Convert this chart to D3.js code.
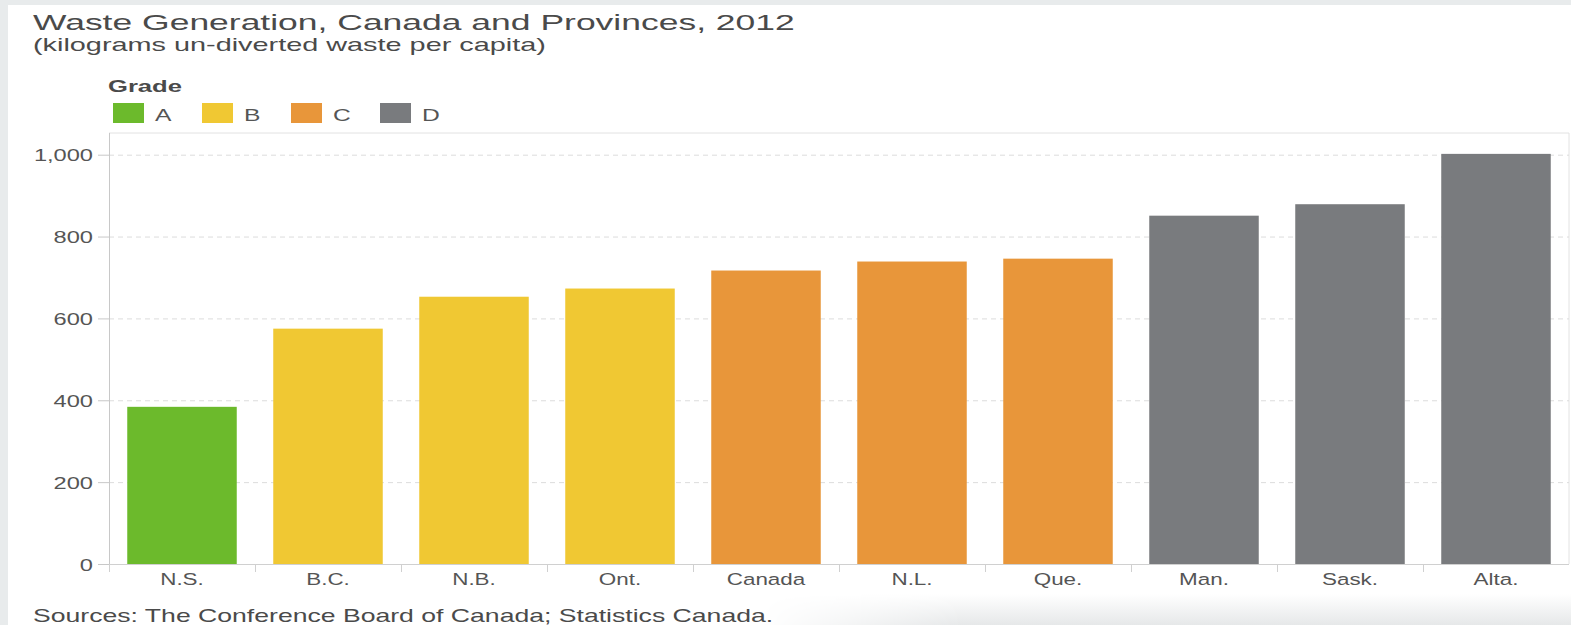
<!DOCTYPE html>
<html>
<head>
<meta charset="utf-8">
<script src="https://cdn.jsdelivr.net/npm/d3@7"></script>
<style>
  html, body { margin: 0; padding: 0; background: #fff; }
  svg { display: block; font-family: "Liberation Sans", Arial, sans-serif; }
</style>
</head>
<body>
<div id="chart"></div>
<script>
// data
const regions = ["N.S.", "B.C.", "N.B.", "Ont.", "Canada", "N.L.", "Que.", "Man.", "Sask.", "Alta."];
const waste = [384, 575, 653, 673, 717, 739, 746, 851, 879, 1002];
const grades = ["A", "B", "B", "B", "C", "C", "C", "D", "D", "D"];
const gradeNames = ["A", "B", "C", "D"];
const gradeColors = ["#6cba2c", "#f0c833", "#e8963a", "#797b7e"];
const yTicks = [0, 200, 400, 600, 800, 1000];

const W = 1571, H = 625;
const margin = { top: 133, right: 2, bottom: 61, left: 109 };

const svg = d3.select("#chart").append("svg")
  .attr("width", W).attr("height", H);

// backdrop: grey slide edge on the left/top and a soft shadow bottom right
const defs = svg.append("defs");
const shade = defs.append("linearGradient").attr("id", "shade")
  .attr("x1", 0).attr("y1", 0).attr("x2", 0).attr("y2", 1);
shade.append("stop").attr("offset", "0").attr("stop-color", "#ffffff");
shade.append("stop").attr("offset", "1").attr("stop-color", "#e6e8e9");
const fade = defs.append("linearGradient").attr("id", "fade");
fade.append("stop").attr("offset", "0").attr("stop-color", "#000");
fade.append("stop").attr("offset", "0.25").attr("stop-color", "#fff");
defs.append("mask").attr("id", "fadeMask")
  .append("rect").attr("x", 760).attr("y", 590).attr("width", W - 760).attr("height", 35)
  .attr("fill", "url(#fade)");

svg.append("rect").attr("width", W).attr("height", H).attr("fill", "#e8ebec");
svg.append("rect").attr("x", 8).attr("y", 5).attr("width", W - 8).attr("height", H - 5).attr("fill", "#fff");
svg.append("rect").attr("x", 760).attr("y", 594).attr("width", W - 760).attr("height", 31)
  .attr("fill", "url(#shade)").attr("mask", "url(#fadeMask)");

// the source picture is stretched sideways, so text gets a horizontal scale
function label(g, x, y, txt, size, sx, opts = {}) {
  return g.append("text")
    .attr("transform", `translate(${x},${y}) scale(${sx},1)`)
    .attr("font-size", size)
    .attr("fill", opts.fill || "#555")
    .attr("font-weight", opts.weight || "normal")
    .attr("text-anchor", opts.anchor || "start")
    .text(txt);
}

// titles
label(svg, 33, 30, "Waste Generation, Canada and Provinces, 2012", 21.5, 1.65, { fill: "#4a4a4a" });
label(svg, 33, 51, "(kilograms un-diverted waste per capita)", 18.5, 1.56, { fill: "#4a4a4a" });
label(svg, 33, 622, "Sources: The Conference Board of Canada; Statistics Canada.", 19, 1.4, { fill: "#4a4a4a" });

// legend
const legend = svg.append("g");
label(legend, 108, 92, "Grade", 16, 1.6, { weight: "bold", fill: "#4a4a4a" });
const item = legend.selectAll("g.item").data(gradeNames).enter().append("g")
  .attr("class", "item")
  .attr("transform", (d, i) => `translate(${113 + i * 89},103)`);
item.append("rect").attr("width", 31).attr("height", 20)
  .attr("fill", (d, i) => gradeColors[i]);
item.each(function (d) { label(d3.select(this), 42, 18, d, 17, 1.45); });

// scales
const x = d3.scaleBand().domain(regions)
  .range([margin.left, W - margin.right])
  .paddingInner(0.25).paddingOuter(0.125);
const y = d3.scaleLinear().domain([0, 1053])
  .range([H - margin.bottom, margin.top]);
const color = d3.scaleOrdinal().domain(gradeNames).range(gradeColors);

const x0 = margin.left, x1 = W - margin.right, yb = y(0), yt = margin.top;

// frame top and right
svg.append("path")
  .attr("d", `M${x0},${yt}H${x1}V${yb}`)
  .attr("fill", "none").attr("stroke", "#e2e2e2");

// dashed grid
svg.append("g").selectAll("line").data(yTicks.filter(d => d > 0)).enter().append("line")
  .attr("x1", x0).attr("x2", x1)
  .attr("y1", d => y(d) + 0.5).attr("y2", d => y(d) + 0.5)
  .attr("stroke", "#dcdcdc").attr("stroke-dasharray", "5,4");

// bars
svg.append("g").selectAll("rect").data(regions).enter().append("rect")
  .attr("x", d => x(d))
  .attr("width", x.bandwidth())
  .attr("y", (d, i) => y(waste[i]))
  .attr("height", (d, i) => yb - y(waste[i]))
  .attr("fill", (d, i) => color(grades[i]));

// y axis
const ysx = 1.39;
const yAxis = svg.append("g").attr("transform", `translate(${x0},0)`)
  .call(d3.axisLeft(y).tickValues(yTicks).tickFormat(d3.format(",")).tickSize(11).tickPadding(5));
yAxis.select(".domain").attr("d", `M0.5,${yt}V${yb}`).attr("stroke", "#c8c8c8");
yAxis.selectAll(".tick line").attr("stroke", "#c8c8c8");
yAxis.selectAll(".tick text")
  .attr("x", -16 / ysx).attr("dy", "0.36em")
  .attr("transform", `scale(${ysx},1)`)
  .attr("font-size", 17).attr("fill", "#555")
  .attr("font-family", "Liberation Sans, Arial, sans-serif");

// x axis: tick marks sit on band boundaries
const xAxis = svg.append("g").attr("transform", `translate(0,${yb})`);
xAxis.append("line").attr("x1", x0).attr("x2", x1).attr("y1", 0.5).attr("y2", 0.5)
  .attr("stroke", "#d0d0d0");
xAxis.selectAll("line.tk").data(regions).enter().append("line")
  .attr("class", "tk")
  .attr("x1", d => x(d) - x.step() * x.paddingOuter() + 0.5)
  .attr("x2", d => x(d) - x.step() * x.paddingOuter() + 0.5)
  .attr("y1", 0).attr("y2", 8)
  .attr("stroke", "#d0d0d0");
xAxis.selectAll("g.lab").data(regions).enter().append("g")
  .attr("class", "lab")
  .each(function (d) {
    label(d3.select(this), x(d) + x.bandwidth() / 2, 21, d, 16.5, 1.36, { anchor: "middle" });
  });
</script>
</body>
</html>
